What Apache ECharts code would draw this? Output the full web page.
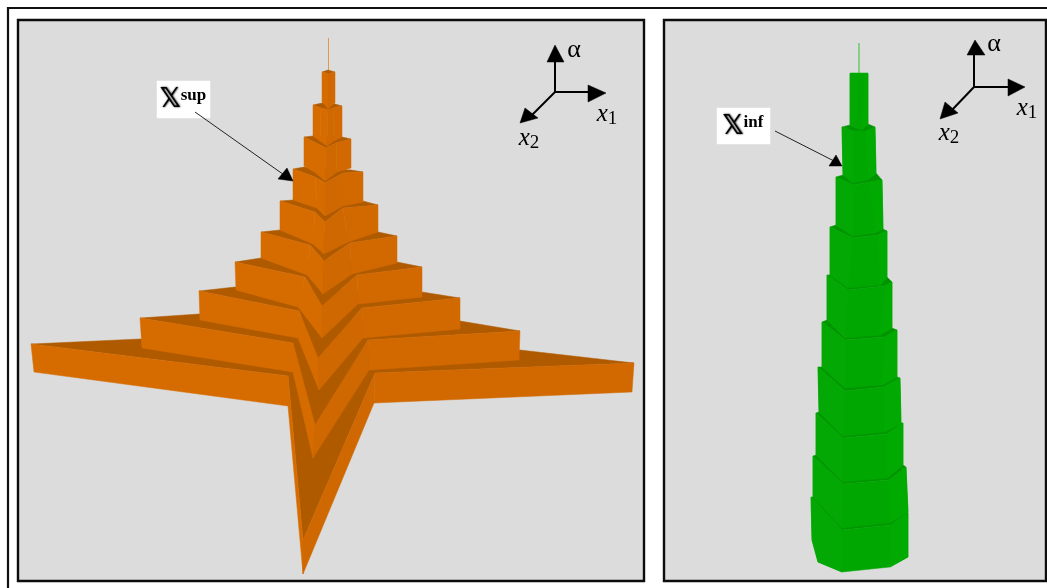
<!DOCTYPE html>
<html><head><meta charset="utf-8">
<style>html,body{margin:0;padding:0;background:#fff}#c{width:1047px;height:588px;filter:blur(0.45px)}</style>
<script src="https://cdn.jsdelivr.net/npm/echarts@6/dist/echarts.min.js"></script>
</head><body><div id="c"></div>
<script>
// Values, in picture units (x to the right, y downward).
// Each orange tier: profile of five points across the top and bottom of its faces.
const supTop = [
 [[322,72],[326,73],[328,74],[331,73],[335,72]],
 [[313,105],[321,108],[328,110],[333,108],[342,106]],
 [[304,137],[316,143],[326,148],[336,143],[351,139]],
 [[293,169],[315,177],[325,183],[343,173],[363,172]],
 [[280,201],[315,212],[325,222],[343,208],[378,205]],
 [[261,232],[310,245],[324,261],[350,243],[397,236]],
 [[235,262],[305,277],[322,306],[357,275],[422,267]],
 [[199,291],[299,311],[318,358],[362,308],[460,298]],
 [[140,318],[293,343],[315,425],[368,340],[520,331]],
 [[31,344],[288,376],[303,540],[375,373],[634,363]]
];
const supBottom = [
 [[322,102],[326,106],[328,109],[331,106],[335,103]],
 [[313,136],[320,141],[327,146],[334,141],[342,137]],
 [[304,166],[316,173],[325,181],[337,172],[351,168]],
 [[293,200],[317,208],[325,216],[343,206],[363,202]],
 [[280,230],[313,244],[324,254],[348,242],[378,232]],
 [[261,258],[307,275],[323,294],[352,274],[397,263]],
 [[236,290],[298,307],[322,338],[358,304],[422,297]],
 [[200,320],[298,338],[319,390],[363,338],[460,329]],
 [[142,348],[293,372],[313,458],[369,370],[519,360]],
 [[34,372],[288,406],[303,574],[374,403],[632,392]]
];
// Where each tier's back edges disappear behind the tier above it.
const supBack = [
 [[328,70],[328,70]],
 [[322,103],[335,104]],
 [[313,136],[342,137]],
 [[304,167],[351,170]],
 [[293,200],[363,201]],
 [[280,230],[378,232]],
 [[261,258],[397,262]],
 [[235,287],[422,292]],
 [[199,314],[460,321]],
 [[140,339],[520,350]]
];
// Green tiers: left corner, two front corners, right corner.
const infTop = [
 [[850,74],[856,76],[864,76],[868,74]],
 [[842,127],[853,131],[866,131],[875,127]],
 [[836,177],[853,185],[870,182],[882,180]],
 [[830,227],[853,238],[878,235],[887,231]],
 [[827,275],[848,290],[885,286],[892,282]],
 [[822,322],[845,340],[885,337],[897,330]],
 [[818,367],[845,391],[884,387],[900,378]],
 [[816,413],[843,438],[887,434],[903,423]],
 [[813,456],[843,484],[889,480],[906,467]],
 [[811,497],[842,530],[891,525],[908,513]]
];
const infBottom = [
 [[850,125],[856,128],[862,130],[868,124]],
 [[843,175],[853,183],[868,180],[876,173]],
 [[836,225],[853,236],[875,233],[883,229]],
 [[830,275],[848,288],[880,285],[887,277]],
 [[827,320],[845,338],[880,335],[892,328]],
 [[822,367],[845,388],[882,385],[897,377]],
 [[819,412],[843,436],[885,432],[901,423]],
 [[816,455],[843,482],[887,478],[903,465]],
 [[813,497],[842,528],[890,523],[908,512]],
 [[812,540],[818,562],[842,572],[890,567],[908,557]]
];
const infCap = [[868,73],[850,73]];
const spires = [[[328.5,38],[328.5,71]],[[859,43],[859,74]]];
const panels = [[18,20,644,581],[664,20,1046,581]];
const outerFrame = [[8,588],[8,8],[1047,8]];
const labelBoxes = [[157,81,210,118],[717,108,770,144]];
const pointerLines = [[[195,112],[287,177]],[[775,131],[836,162]]];
const pointerHeads = [
 [[293,181],[287,168],[278,179]],
 [[842,166],[836,155],[829,166]]
];
const axisOrigins = [[555,92],[974,87]];
const axisLineEnds = [
 [[555,62],[588,92],[530,117]],
 [[974,55],[1008,87],[952,110]]
];
const axisHeads = [
 [[555,45],[547,62],[564,62]],[[588,85],[588,102],[606,93]],[[520,123],[525,108],[538,118]],
 [[975,40],[967,55],[985,55]],[[1008,79],[1008,96],[1025,87]],[[940,119],[945,102],[958,113]]
];
const texts = [
 {at:[183,100], text:'{bb|𝕏}{sup|sup}'},
 {at:[743,127], text:'{bb|𝕏}{sup|inf}'},
 {at:[574,50], text:'{a|α}'},
 {at:[607,114], text:'{v|x}{n|1}'},
 {at:[529,138], text:'{v|x}{n|2}'},
 {at:[994,44], text:'{a|α}'},
 {at:[1027,108], text:'{v|x}{n|1}'},
 {at:[949,133], text:'{v|x}{n|2}'}
];

const ORANGE = {ledge:'#b05a00', wingL:'#d66c00', thinL:'#d66c00', thinR:'#cf6800', wingR:'#d26900', spire:'#e09a50'};
const GREEN = {ledge:'#009400', left:'#04a804', mid:'#00a700', right:'#00aa00', spire:'#35c035'};

const shapes = [];
const poly = (pts, fill) => shapes.push({kind:'poly', pts, fill, stroke:fill, lw:0.5});
const line = (pts, stroke, lw) => shapes.push({kind:'line', pts, stroke, lw});

panels.forEach(p => shapes.push({kind:'poly', pts:[[p[0],p[1]],[p[2],p[1]],[p[2],p[3]],[p[0],p[3]]], fill:'#dcdcdc', stroke:'#0c0c0c', lw:2.4}));
line(outerFrame, '#111', 2.2);

// orange, painted from the widest tier up
line(spires[0], ORANGE.spire, 1);
for (let i = supTop.length - 1; i >= 0; i--) {
  const t = supTop[i], b = supBottom[i], k = supBack[i];
  poly([t[0], k[0], k[1], t[4], t[3], t[2], t[1]], ORANGE.ledge);
  poly([t[0], t[1], b[1], b[0]], ORANGE.wingL);
  poly([t[1], t[2], b[2], b[1]], ORANGE.thinL);
  poly([t[2], t[3], b[3], b[2]], ORANGE.thinR);
  poly([t[3], t[4], b[4], b[3]], ORANGE.wingR);
}
// green
line(spires[1], GREEN.spire, 1);
for (let i = infTop.length - 1; i >= 0; i--) {
  const t = infTop[i], b = infBottom[i];
  if (i > 0) {
    const up = infBottom[i - 1];
    poly([...t, up[up.length - 1], up[0]], GREEN.ledge);
  } else {
    poly([...t, ...infCap], GREEN.right);
  }
  poly([...t, ...b.slice().reverse()], GREEN.mid);
  const n = b.length;
  poly([t[0], t[1], b[n - 3], ...b.slice(0, n - 3).reverse()], GREEN.left);
  poly([t[2], t[3], b[n - 1], b[n - 2]], GREEN.right);
}
labelBoxes.forEach(r => poly([[r[0],r[1]],[r[2],r[1]],[r[2],r[3]],[r[0],r[3]]], '#ffffff'));
pointerLines.forEach(l => line(l, '#222', 1));
pointerHeads.forEach(h => poly(h, '#000'));
axisOrigins.forEach((o, i) => axisLineEnds[i].forEach(e => line([o, e], '#000', 2)));
axisHeads.forEach(h => poly(h, '#000'));
texts.forEach(t => shapes.push({kind:'text', pts:[t.at], text:t.text}));

const rich = {
  bb:{fontFamily:'DejaVu Sans', fontWeight:'bold', fontSize:26, color:'#000', textShadowColor:'#000', textShadowBlur:2, textShadowOffsetX:0.5},
  sup:{fontFamily:'Liberation Serif', fontWeight:'bold', fontSize:17, color:'#111', verticalAlign:'top', padding:[0,0,9,0]},
  a:{fontFamily:'Liberation Serif', fontSize:26, color:'#1a1a1a'},
  v:{fontFamily:'Liberation Serif', fontStyle:'italic', fontSize:25, color:'#1a1a1a'},
  n:{fontFamily:'Liberation Serif', fontSize:19, color:'#1a1a1a', padding:[10,0,0,0]}
};

const chart = echarts.init(document.getElementById('c'), null, {renderer:'canvas'});
chart.setOption({
  animation:false,
  backgroundColor:'#ffffff',
  grid:{left:0, right:0, top:0, bottom:0},
  xAxis:{type:'value', min:0, max:1047, show:false},
  yAxis:{type:'value', min:0, max:588, inverse:true, show:false},
  series:[{
    type:'custom',
    coordinateSystem:'cartesian2d',
    clip:false,
    silent:true,
    data:shapes.map(s => s.pts[0]),
    renderItem(params, api){
      const s = shapes[params.dataIndex];
      const pts = s.pts.map(p => api.coord(p));
      if (s.kind === 'poly') return {type:'polygon', shape:{points:pts}, style:{fill:s.fill, stroke:s.stroke, lineWidth:s.lw}};
      if (s.kind === 'line') return {type:'polyline', shape:{points:pts}, style:{fill:null, stroke:s.stroke, lineWidth:s.lw}};
      return {type:'text', x:pts[0][0], y:pts[0][1], style:{text:s.text, rich, align:'center', verticalAlign:'middle'}};
    }
  }]
});
</script></body></html>
